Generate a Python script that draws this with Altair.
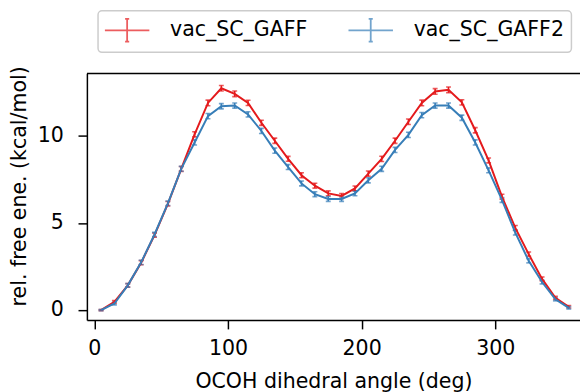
import altair as alt
import pandas as pd

angles = [5, 15, 25, 35, 45, 55, 65, 75, 85, 95, 105, 115, 125, 135, 145, 155, 165, 175,
          185, 195, 205, 215, 225, 235, 245, 255, 265, 275, 285, 295, 305, 315, 325, 335, 345, 355]

gaff = [0.0, 0.47, 1.42, 2.72, 4.30, 6.10, 8.10, 10.09, 11.89, 12.73, 12.41, 11.89, 10.75, 9.72,
        8.68, 7.74, 7.14, 6.70, 6.55, 6.98, 7.83, 8.68, 9.72, 10.81, 11.89, 12.55, 12.64, 11.92,
        10.32, 8.59, 6.51, 4.72, 3.21, 1.79, 0.70, 0.19]
gaff_err = [0.03, 0.08, 0.10, 0.12, 0.12, 0.13, 0.14, 0.15, 0.16, 0.16, 0.16, 0.15, 0.15, 0.15,
            0.14, 0.14, 0.14, 0.14, 0.14, 0.14, 0.15, 0.15, 0.15, 0.16, 0.16, 0.16, 0.16, 0.15,
            0.15, 0.14, 0.14, 0.13, 0.12, 0.11, 0.09, 0.07]

gaff2 = [0.0, 0.38, 1.42, 2.74, 4.34, 6.13, 8.11, 9.62, 11.13, 11.70, 11.74, 11.23, 10.28, 9.15,
         8.21, 7.27, 6.65, 6.38, 6.38, 6.70, 7.45, 8.11, 9.19, 10.06, 11.19, 11.74, 11.74, 11.04,
         9.62, 8.02, 6.32, 4.44, 2.83, 1.61, 0.62, 0.13]
gaff2_err = [0.03, 0.08, 0.10, 0.12, 0.12, 0.13, 0.14, 0.15, 0.15, 0.15, 0.15, 0.15, 0.15, 0.15,
             0.14, 0.14, 0.14, 0.14, 0.14, 0.14, 0.15, 0.15, 0.15, 0.15, 0.15, 0.15, 0.15, 0.15,
             0.15, 0.14, 0.14, 0.13, 0.12, 0.11, 0.09, 0.07]

series_names = ["vac_SC_GAFF", "vac_SC_GAFF2"]
series_colors = ["#e41a1c", "#377eb8"]

rows = []
for name, vals, errs in [(series_names[0], gaff, gaff_err), (series_names[1], gaff2, gaff2_err)]:
    for a, v, e in zip(angles, vals, errs):
        rows.append({"angle": a, "energy": v, "lo": v - e, "hi": v + e, "series": name})
df = pd.DataFrame(rows)

FONT = "DejaVu Sans"
FS = 20.8
W, H = 500, 250

xscale = alt.Scale(domain=[-5.6, 363.4], nice=False, zero=False)
yscale = alt.Scale(domain=[-0.57, 13.58], nice=False, zero=False)
cscale = alt.Scale(domain=series_names, range=series_colors)

legend = alt.Legend(
    title=None,
    orient="none",
    legendX=11.3,
    legendY=-63.5,
    direction="horizontal",
    columns=2,
    symbolType="M-1.96,0H1.96M0,-1V1M-0.18,-1H0.18M-0.18,1H0.18",
    symbolSize=529,
    symbolOffset=10,
    symbolStrokeWidth=1.8,
    symbolFillColor="transparent",
    labelFont=FONT,
    labelFontSize=FS,
    labelColor="black",
    labelOffset=31,
    columnPadding=37,
    padding=7,
    strokeColor="#cccccc",
    cornerRadius=4,
    fillColor="white",
)

x = alt.X(
    "angle:Q",
    scale=xscale,
    axis=alt.Axis(
        values=[0, 100, 200, 300],
        title="OCOH dihedral angle (deg)",
        titleBaseline="alphabetic",
        titleY=68,
        labelPadding=10,
    ),
)
y = alt.Y(
    "energy:Q",
    scale=yscale,
    axis=alt.Axis(
        values=[0, 5, 10],
        title="rel. free ene. (kcal/mol)",
        titleAngle=270,
        titleBaseline="alphabetic",
        titleX=-62,
        titleY=114,
        labelPadding=15,
    ),
)

base = alt.Chart(df)

lines = base.mark_line(strokeWidth=2, clip=True).encode(
    x=x, y=y, color=alt.Color("series:N", scale=cscale, legend=legend)
)

bars = base.mark_errorbar(ticks=alt.MarkConfig(size=5), thickness=1.6, clip=True).encode(
    x=alt.X("angle:Q", scale=xscale),
    y=alt.Y("lo:Q", scale=yscale, title=""),
    y2="hi:Q",
    color=alt.Color("series:N", scale=cscale, legend=legend),
)

top_spine = alt.Chart(pd.DataFrame({"k": [0]})).mark_rule(color="black", strokeWidth=1.5).encode(
    x=alt.value(0), x2=alt.value(W), y=alt.value(0)
)

chart = (
    alt.layer(bars, lines, top_spine)
    .properties(
        width=W,
        height=H,
        autosize=alt.AutoSizeParams(type="none"),
        padding={"left": 80, "top": 63.7, "right": 0, "bottom": 70.3},
    )
    .configure_view(stroke="transparent")
    .configure_legend(strokeWidth=1.5)
    .configure_axis(
        grid=False,
        domainColor="black",
        domainWidth=1.5,
        tickColor="black",
        tickWidth=1.5,
        tickSize=9,
        labelFont=FONT,
        labelFontSize=FS,
        labelColor="black",
        titleFont=FONT,
        titleFontSize=FS,
        titleColor="black",
        titleFontWeight="normal",
    )
)

chart.save("out.html", embed_options={"renderer": "svg", "actions": False})
